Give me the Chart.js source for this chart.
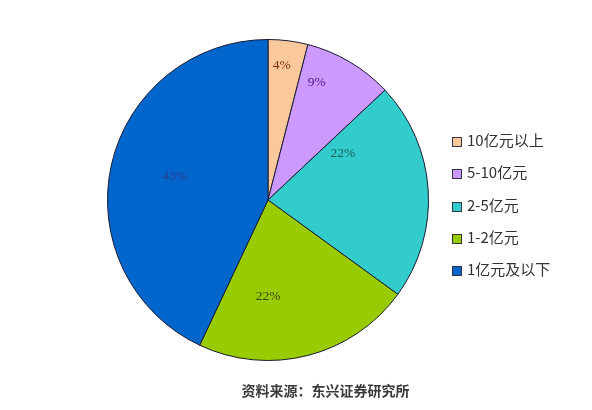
<!DOCTYPE html>
<html lang="zh">
<head>
<meta charset="utf-8">
<script src="https://cdn.jsdelivr.net/npm/chart.js@4/dist/chart.umd.min.js"></script>
<style>
  html, body { margin: 0; padding: 0; background: #ffffff; }
  #cadre { position: relative; width: 592px; height: 410px; }
  #graphique { position: absolute; left: 0; top: 0; }
  #legende { position: absolute; left: 452px; top: 129px; margin: 0; padding: 0; list-style: none; }
  #legende li {
    height: 32.3px; line-height: 24px; font: 15px "Noto Sans CJK SC", sans-serif;
    color: #333333; white-space: nowrap;
  }
  #legende .carre {
    display: inline-block; width: 8px; height: 8px; border: 1px solid #333344;
    margin-right: 5px; vertical-align: -1px;
  }
  #source {
    position: absolute; left: 0; width: 651px; top: 380px; text-align: center;
    font: bold 14px "Noto Sans CJK SC", sans-serif; color: #3a3a3a;
  }
</style>
</head>
<body>
<div id="cadre">
  <canvas id="graphique" width="592" height="410"></canvas>
  <ul id="legende"></ul>
  <div id="source">资料来源：东兴证券研究所</div>
</div>
<script>
'use strict';

/* === DONNÉES === */
const categories = ['10亿元以上', '5-10亿元', '2-5亿元', '1-2亿元', '1亿元及以下'];
const valeurs = [4, 9, 22, 22, 43];
const etiquettes = ['4%', '9%', '22%', '22%', '43%'];

/* === STYLE === */
const couleurs = ['#f9c99b', '#cc99ff', '#33cccc', '#99cc00', '#0066cc'];
const couleursTexte = ['#7a2e10', '#4a1580', '#1d5a5a', '#3a4410', '#2a3a8c'];
// position des pourcentages : décalage d'angle (degrés) et fraction du rayon
const decalagesAngle = [-1.4, -8, -28.5, 14.4, 1.4];
const fractionsRayon = [0.84, 0.79, 0.55, 0.6, 0.6];

const pluginEtiquettes = {
  id: 'etiquettes',
  afterDatasetsDraw(chart) {
    const ctx = chart.ctx;
    const arcs = chart.getDatasetMeta(0).data;
    ctx.save();
    ctx.font = '13.5px "Liberation Serif", serif';
    ctx.textAlign = 'center';
    ctx.textBaseline = 'middle';
    arcs.forEach((arc, i) => {
      const { x, y, startAngle, endAngle, outerRadius } = arc.getProps(['x', 'y', 'startAngle', 'endAngle', 'outerRadius'], true);
      const angle = (startAngle + endAngle) / 2 + decalagesAngle[i] * Math.PI / 180;
      const r = outerRadius * fractionsRayon[i];
      ctx.fillStyle = couleursTexte[i];
      ctx.fillText(etiquettes[i], x + Math.cos(angle) * r, y + Math.sin(angle) * r);
    });
    ctx.restore();
  }
};

function construireLegende() {
  const liste = document.getElementById('legende');
  liste.innerHTML = categories.map((cat, i) => `
    <li><span class="carre" style="background:${couleurs[i]}"></span>${cat}</li>
  `).join('');
}

function initialiserChart() {
  const ctx = document.getElementById('graphique').getContext('2d');
  new Chart(ctx, {
    type: 'pie',
    data: {
      labels: categories,
      datasets: [{
        data: valeurs,
        backgroundColor: couleurs,
        borderColor: '#1a1a33',
        borderWidth: 1
      }]
    },
    options: {
      responsive: false,
      animation: false,
      layout: { padding: { top: 39, bottom: 49, left: 107, right: 163 } },
      plugins: {
        legend: { display: false },
        tooltip: { enabled: false }
      }
    },
    plugins: [pluginEtiquettes]
  });
}

construireLegende();
initialiserChart();
</script>
</body>
</html>
